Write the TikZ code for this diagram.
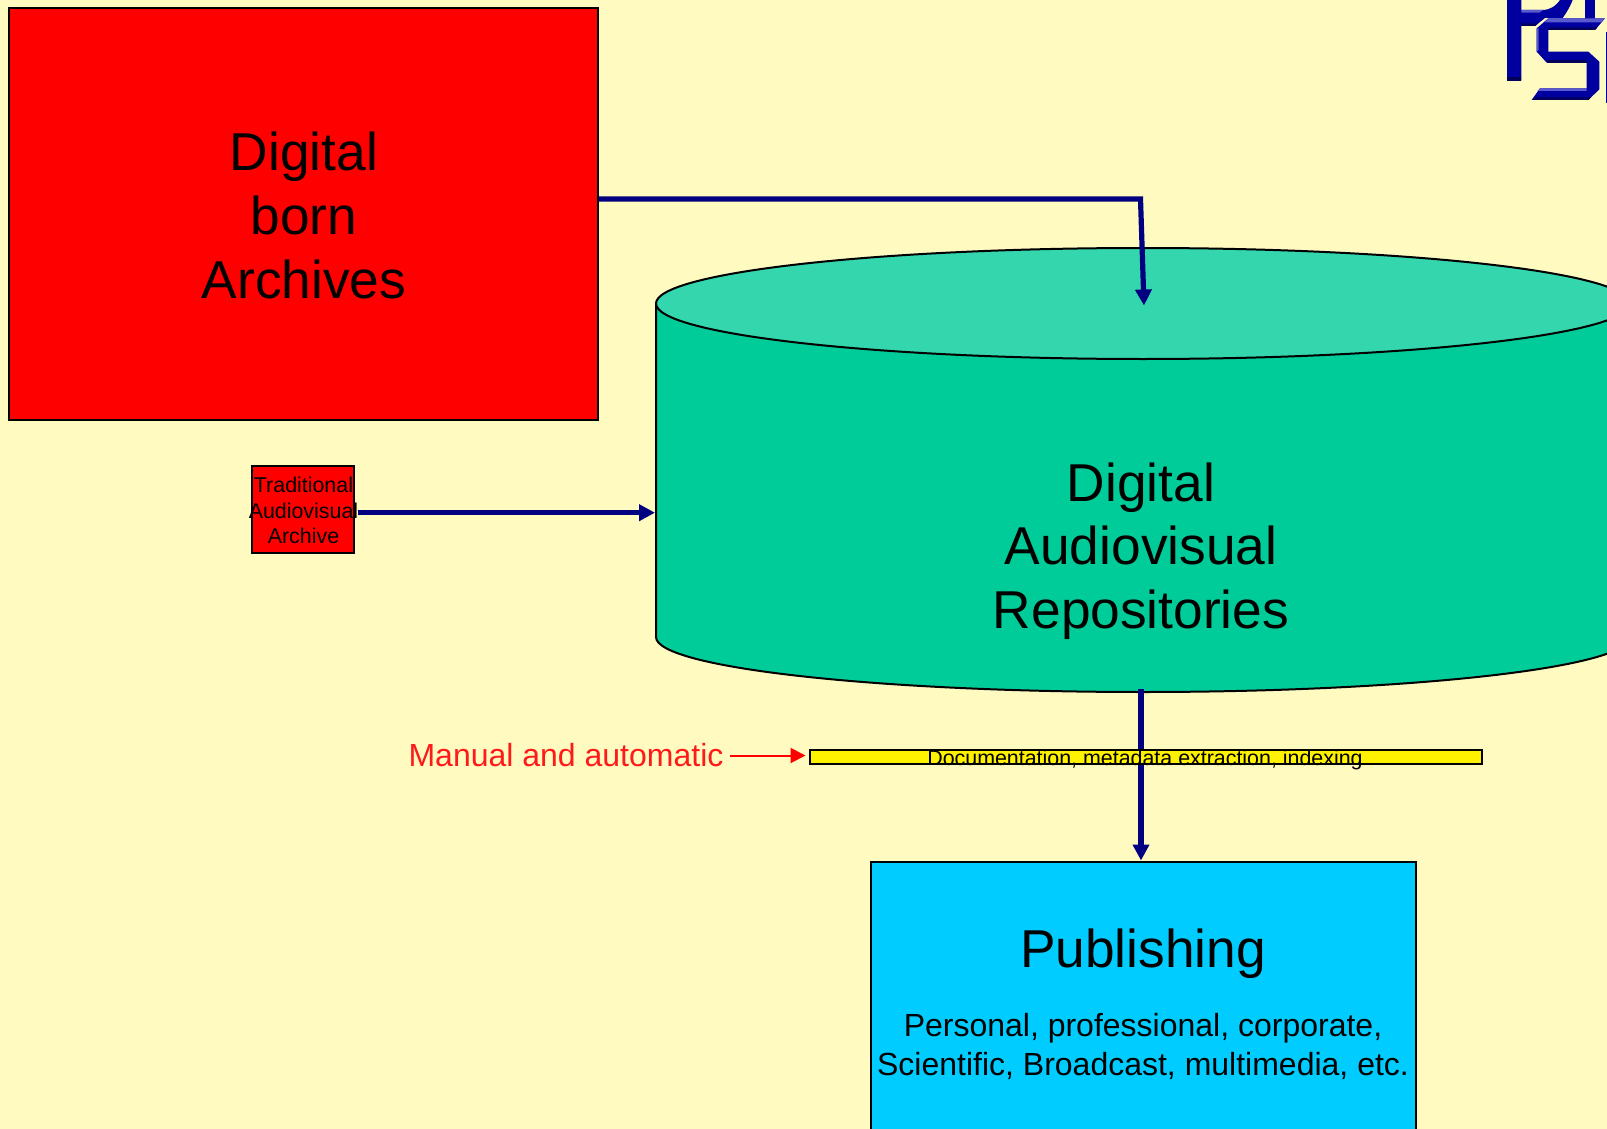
\documentclass[tikz,border=0pt]{standalone}
\usepackage{fontspec}
\setmainfont{Liberation Sans}
\usetikzlibrary{arrows.meta}
\definecolor{bgc}{HTML}{FFFAC0}
\definecolor{cylc}{HTML}{00CC99}
\definecolor{cyltop}{HTML}{33D6AD}
\definecolor{navy}{HTML}{000080}
\definecolor{pubc}{HTML}{00CCFF}
\definecolor{logoc}{HTML}{0000A0}
\definecolor{logol}{HTML}{5A5AD0}
\definecolor{logod}{HTML}{00005A}
\definecolor{redtext}{HTML}{FF1A1A}
\tikzset{
  box/.style={draw=black,line width=2pt,inner sep=0pt,outer sep=0pt,anchor=north west},
  bigt/.style={align=center,inner sep=0pt,font=\fontsize{53.3}{63.7}\selectfont},
  midt/.style={align=center,inner sep=0pt,font=\fontsize{32}{39}\selectfont},
  smallt/.style={align=center,inner sep=0pt,font=\fontsize{21.4}{25.6}\selectfont},
  flow/.style={draw=navy,line width=5.2pt,-{Triangle[length=16pt,width=16pt]}},
  redflow/.style={draw=red,line width=2pt,-{Triangle[length=15pt,width=15pt]}}
}
\begin{document}
\begin{tikzpicture}[x=1pt,y=-1pt]
\useasboundingbox (0,0) rectangle (1607,1129);
\clip (0,0) rectangle (1607,1129);
\fill[bgc] (0,0) rectangle (1607,1129);
% logo
\begin{scope}[shift={(1480,0)},x=0.3333pt,y=-0.3333pt]
  \fill[logoc] (81,0) -- (124,0) -- (124,30) -- (190,30) .. controls (215,28) and (230,15) .. (240,0) -- (278,0) .. controls (268,25) and (258,40) .. (248,54) -- (195,54) -- (165,78) -- (124,78) -- (124,242) -- (81,242) -- cycle;
  \fill[logol] (124,30) -- (190,30) -- (178,38) -- (124,38) -- cycle;
  \fill[logod] (81,232) -- (124,232) -- (124,242) -- (81,242) -- cycle;
  \fill[logod] (124,70) -- (175,70) -- (165,78) -- (124,78) -- cycle;
  \fill[logoc] (316,0) -- (345,0) -- (345,56) -- (316,56) -- cycle;
  \fill[logoc] (205,55) -- (375,55) -- (345,90) -- (205,90) -- (205,155) -- (325,155) -- (358,185) -- (358,268) -- (325,300) -- (155,300) -- (180,265) -- (320,265) -- (320,188) -- (200,188) -- (170,155) -- (170,85) -- cycle;
  \fill[logol] (205,55) -- (375,55) -- (362,67) -- (195,67) -- cycle;
  \fill[logol] (170,85) -- (176,85) -- (176,150) -- (170,155) -- cycle;
  \fill[logol] (180,265) -- (320,265) -- (320,273) -- (172,273) -- cycle;
  \fill[logod] (205,82) -- (352,82) -- (345,90) -- (205,90) -- cycle;
  \fill[logod] (200,181) -- (320,181) -- (320,188) -- (200,188) -- cycle;
  \fill[logod] (165,292) -- (333,292) -- (325,300) -- (155,300) -- cycle;
  \fill[logoc] (379,95) rectangle (381,310);
\end{scope}
% cylinder
\draw[fill=cylc,line width=2pt] (656,303.5) -- (656,637) arc[start angle=180,end angle=0,x radius=487,y radius=55] -- (1630,303.5) -- cycle;
\draw[fill=cyltop,line width=2pt] (1143,303.5) ellipse[x radius=487,y radius=55.5];
\coordinate (cylWest) at (655,512.7);
\coordinate (cylTopIn) at (1144,305.5);
\coordinate (cylBase) at (1141,689);
\coordinate (topBend) at (1140.5,199);
% boxes
\node[box,fill=red,minimum width=589pt,minimum height=412pt] (born) at (9.2,8) {};
\node[box,fill=red,minimum width=102pt,minimum height=86.5pt] (trad) at (252,466.3) {};
\node[box,fill=pubc,minimum width=545pt,minimum height=300pt] (pub) at (870.7,862.3) {};
\coordinate (bornOut) at (598.5,199);
\coordinate (tradOut) at (357.7,512.7);
\coordinate (pubIn) at (1141,860.5);
% arrows
\draw[flow] (bornOut) -- (topBend) -- (cylTopIn);
\draw[flow] (tradOut) -- (cylWest);
\draw[flow] (cylBase) -- (pubIn);
% bar above the arrow
\node[box,fill=yellow,minimum width=672.5pt,minimum height=13.5pt] (bar) at (809.7,750) {};
% red label and arrow
\node[midt,text=redtext,anchor=center] (manual) at (566,755.5) {Manual and automatic};
\coordinate (manualOut) at (730,755.5);
\coordinate (barIn) at (805.5,755.5);
\draw[redflow] (manualOut) -- (barIn);
% labels
\node[bigt] (bornText) at (304,215.5) {Digital\\born\\Archives};
\node[smallt] (tradText) at (303.5,510.5) {Traditional\\Audiovisual\\Archive};
\node[bigt] (repoText) at (1141,551) {Digital\\Audiovisual\\Repositories};
\node[smallt] (barText) at (1145,760) {Documentation, metadata extraction, indexing};
\node[bigt] (pubText) at (1143,954) {Publishing};
\node[midt] (pubSub) at (1143,1046.5) {Personal, professional, corporate,\\Scientific, Broadcast, multimedia, etc.};
\end{tikzpicture}
\end{document}
